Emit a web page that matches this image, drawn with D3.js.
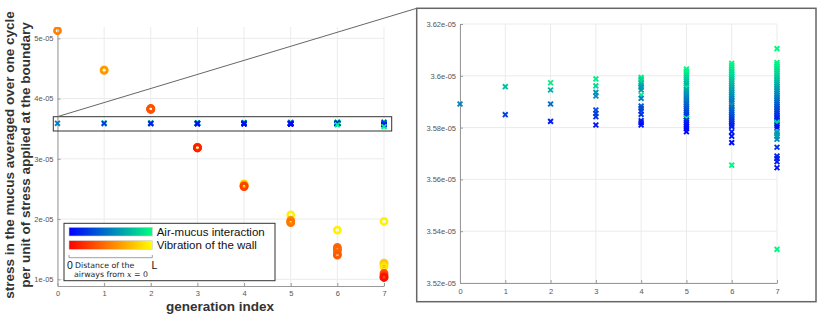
<!DOCTYPE html>
<meta charset="utf-8">
<script src="https://d3js.org/d3.v7.min.js"></script>
<style>
  body { margin: 0; background: #fff; }
  .tick text { font-family: "Liberation Sans", Arial, sans-serif; font-size: 7.5px; fill: #555; }
  .axis path, .axis line { stroke: #999; }
  .grid line { stroke: #ebebeb; stroke-width: 1; }
</style>
<body>
<svg width="817" height="321"></svg>
<script>
// values are in units of 1e-05, second entry = position along the airway (0..1, colour)
var gens = [0, 1, 2, 3, 4, 5, 6, 7];

var air0 = [[3.5891, 0.5]];
var air1 = [[3.5958, 0.75], [3.5850, 0.25]];
var air2 = [[3.5973, 0.95], [3.5945, 0.7], [3.5891, 0.42], [3.5824, 0.1]];
var air3 = [[3.5988, 0.95], [3.5961, 0.85], [3.5936, 0.6], [3.5922, 0.55], [3.5868, 0.3],
            [3.5855, 0.25], [3.5842, 0.2], [3.5810, 0.05]];
var air4 = [[3.5994, 0.95], [3.5988, 0.9], [3.5984, 0.85], [3.5971, 0.75], [3.5963, 0.68],
            [3.5956, 0.62], [3.5945, 0.58], [3.5926, 0.92], [3.5913, 0.5], [3.5883, 0.35],
            [3.5875, 0.3], [3.5864, 0.25], [3.5851, 0.2], [3.5827, 0.12], [3.5819, 0.08],
            [3.5810, 0.05]];
var air5 = [[3.6026, 0.98], [3.6018, 0.95], [3.6010, 0.92], [3.6002, 0.88], [3.5994, 0.85],
            [3.5986, 0.82], [3.5978, 0.78], [3.5970, 0.74], [3.5962, 0.7], [3.5955, 0.9],
            [3.5946, 0.66], [3.5938, 0.62], [3.5930, 0.58], [3.5922, 0.55], [3.5914, 0.5],
            [3.5906, 0.47], [3.5898, 0.44], [3.5890, 0.4], [3.5882, 0.37], [3.5874, 0.34],
            [3.5866, 0.3], [3.5858, 0.27], [3.5850, 0.24], [3.5842, 0.2], [3.5836, 0.95],
            [3.5828, 0.15], [3.5820, 0.12], [3.5812, 0.09], [3.5804, 0.06], [3.5796, 0.04],
            [3.5784, 0.02]];
var air6 = [[3.6048, 0.98], [3.6040, 0.96], [3.6033, 0.94], [3.6026, 0.92], [3.6019, 0.9],
            [3.6012, 0.88], [3.6005, 0.86], [3.5998, 0.84], [3.5991, 0.81], [3.5984, 0.79],
            [3.5977, 0.76], [3.5970, 0.74], [3.5963, 0.71], [3.5956, 0.69], [3.5949, 0.66],
            [3.5942, 0.64], [3.5935, 0.61], [3.5928, 0.59], [3.5921, 0.56], [3.5914, 0.54],
            [3.5907, 0.51], [3.5900, 0.49], [3.5893, 0.47], [3.5886, 0.62], [3.5879, 0.44],
            [3.5872, 0.41], [3.5865, 0.38], [3.5858, 0.35], [3.5851, 0.32], [3.5844, 0.29],
            [3.5837, 0.26], [3.5830, 0.23], [3.5823, 0.2], [3.5816, 0.17], [3.5809, 0.14],
            [3.5804, 0.12], [3.5784, 0.1], [3.5767, 0.08], [3.5742, 0.05], [3.5655, 0.97]];
var air7 = [[3.6105, 0.98], [3.6051, 0.97], [3.6044, 0.95], [3.6037, 0.93], [3.6030, 0.91],
            [3.6023, 0.89], [3.6016, 0.87], [3.6009, 0.85], [3.6002, 0.83], [3.5995, 0.8],
            [3.5988, 0.78], [3.5981, 0.75], [3.5974, 0.72], [3.5967, 0.7], [3.5960, 0.67],
            [3.5953, 0.64], [3.5946, 0.62], [3.5939, 0.59], [3.5932, 0.56], [3.5925, 0.53],
            [3.5918, 0.5], [3.5911, 0.47], [3.5904, 0.44], [3.5897, 0.41], [3.5890, 0.38],
            [3.5883, 0.35], [3.5876, 0.32], [3.5869, 0.29], [3.5862, 0.26], [3.5855, 0.23],
            [3.5848, 0.2], [3.5841, 0.17], [3.5834, 0.14], [3.5827, 0.11], [3.5820, 0.85],
            [3.5815, 0.8], [3.5808, 0.08], [3.5800, 0.06], [3.5784, 0.65], [3.5776, 0.6],
            [3.5767, 0.62], [3.5755, 0.55], [3.5724, 0.2], [3.5690, 0.15], [3.5681, 0.12],
            [3.5668, 0.1], [3.5645, 0.08], [3.5330, 0.97]];

var wall0 = [[5.126, 0.5]];
var wall1 = [[4.478, 0.75], [4.468, 0.6]];
var wall2 = [[3.835, 0.35], [3.830, 0.3], [3.825, 0.28], [3.820, 0.32]];
var wall3 = [[3.195, 0.85], [3.190, 0.3], [3.185, 0.2], [3.180, 0.12]];
var wall4 = [[2.585, 0.9], [2.575, 0.8], [2.560, 0.6], [2.545, 0.3], [2.540, 0.25]];
var wall5 = [[2.070, 0.95], [1.980, 0.6], [1.960, 0.5], [1.940, 0.45]];
var wall6 = [[1.818, 0.95], [1.530, 0.4], [1.500, 0.38], [1.480, 0.4], [1.420, 0.4], [1.400, 0.35]];
var wall7 = [[1.960, 0.95], [1.270, 0.75], [1.255, 0.8], [1.210, 0.9], [1.100, 0.3],
             [1.070, 0.25], [1.040, 0.1], [1.030, 0.05]];

var leftTicks = [1, 2, 3, 4, 5];
var rightTicks = [3.52, 3.54, 3.56, 3.58, 3.60, 3.62];

var airAll = [air0, air1, air2, air3, air4, air5, air6, air7];
var wallAll = [wall0, wall1, wall2, wall3, wall4, wall5, wall6, wall7];
var airPts = [], wallPts = [];
airAll.forEach(function(list, g) { list.forEach(function(p) { airPts.push({g: g, v: p[0], c: p[1]}); }); });
wallAll.forEach(function(list, g) { list.forEach(function(p) { wallPts.push({g: g, v: p[0], c: p[1]}); }); });

// matlab winter / autumn colormaps
function winter(c) { return d3.rgb(0, 255 * c, 255 * (1 - 0.5 * c)); }
function autumn(c) { return d3.rgb(255, 255 * c, 0); }

var svg = d3.select("svg");
var fmt = function(d) { return (+d.toFixed(2)) + "e-05"; };

function crossPath(x, y) {
  var s = 2.4;
  return "M" + (x - s) + "," + (y - s) + "L" + (x + s) + "," + (y + s) +
         "M" + (x - s) + "," + (y + s) + "L" + (x + s) + "," + (y - s);
}

function drawPanel(x, y, ticks, labelPad, clipId) {
  var g = svg.append("g");
  var x0 = x.range()[0], x1 = x.range()[1], y0 = y.range()[0], y1 = y.range()[1];

  g.append("g").attr("class", "grid").selectAll("line").data(gens).enter().append("line")
    .attr("x1", d => x(d)).attr("x2", d => x(d)).attr("y1", y0).attr("y2", y1);
  g.append("g").attr("class", "grid").selectAll("line").data(ticks).enter().append("line")
    .attr("x1", x0).attr("x2", x1).attr("y1", d => y(d)).attr("y2", d => y(d));

  g.append("g").attr("class", "axis").attr("transform", "translate(0," + y0 + ")")
    .call(d3.axisBottom(x).tickValues(gens).tickFormat(d3.format("d"))
      .tickSizeInner(-3).tickSizeOuter(0).tickPadding(labelPad));
  g.append("g").attr("class", "axis").attr("transform", "translate(" + x0 + ",0)")
    .call(d3.axisLeft(y).tickValues(ticks).tickFormat(fmt).tickSizeInner(-3).tickSizeOuter(0).tickPadding(4));

  svg.append("clipPath").attr("id", clipId).append("rect")
    .attr("x", x0 - 6).attr("y", y1).attr("width", x1 - x0 + 12).attr("height", y0 - y1);
  var marks = g.append("g").attr("clip-path", "url(#" + clipId + ")");

  marks.selectAll("circle").data(wallPts).enter().append("circle")
    .attr("cx", d => x(d.g)).attr("cy", d => y(d.v)).attr("r", 3.1)
    .attr("fill", "none").attr("stroke-width", 2.6)
    .attr("stroke", d => autumn(d.c));

  marks.selectAll("path.air").data(airPts).enter().append("path")
    .attr("class", "air")
    .attr("d", d => crossPath(x(d.g), y(d.v)))
    .attr("fill", "none").attr("stroke-width", 1.9)
    .attr("stroke", d => winter(d.c));
  return g;
}

// left panel: the full range
var xL = d3.scaleLinear().domain([0, 7]).range([57.5, 384]);
var yL = d3.scaleLinear().domain([0.889, 5.188]).range([286, 27]);
drawPanel(xL, yL, leftTicks, 5, "clipL");

// right panel: zoom on the air-mucus points
var xR = d3.scaleLinear().domain([0, 7]).range([460, 777]);
var yR = d3.scaleLinear().domain([3.52, 3.62]).range([283, 24]);
drawPanel(xR, yR, rightTicks, 5.5, "clipR");

// zoom box and connector
svg.append("rect").attr("x", 53.3).attr("y", 116.7).attr("width", 338.4).attr("height", 14.3)
  .attr("fill", "none").attr("stroke", "#333").attr("stroke-width", 1);
svg.append("line").attr("x1", 57.3).attr("y1", 116.7).attr("x2", 416.7).attr("y2", 8.3)
  .attr("stroke", "#666").attr("stroke-width", 1);
svg.append("rect").attr("x", 416.7).attr("y", 8.3).attr("width", 399.3).attr("height", 293.4)
  .attr("fill", "none").attr("stroke", "#666").attr("stroke-width", 1.5);

// axis titles
svg.append("text").attr("x", 220).attr("y", 310.5)
  .attr("text-anchor", "middle")
  .style("font-family", "'Liberation Sans', Arial, sans-serif").style("font-weight", "bold")
  .style("font-size", "13.5px").style("fill", "#333")
  .text("generation index");
var ylab = svg.append("g").attr("transform", "translate(0,155) rotate(-90)");
ylab.append("text").attr("x", 0).attr("y", 9).attr("dy", "0.36em")
  .attr("text-anchor", "middle")
  .style("font-family", "'Liberation Sans', Arial, sans-serif").style("font-weight", "bold")
  .style("font-size", "13.5px").style("fill", "#333")
  .text("stress in the mucus averaged over one cycle");
ylab.append("text").attr("x", 0).attr("y", 25).attr("dy", "0.36em")
  .attr("text-anchor", "middle")
  .style("font-family", "'Liberation Sans', Arial, sans-serif").style("font-weight", "bold")
  .style("font-size", "13.5px").style("fill", "#333")
  .text("per unit of stress applied at the boundary");

// legend
var leg = svg.append("g");
leg.append("rect").attr("x", 64).attr("y", 223.3).attr("width", 211).attr("height", 57.4)
  .attr("fill", "#fff").attr("stroke", "#333").attr("stroke-width", 1);

var defs = svg.append("defs");
function gradient(id, cmap) {
  var gr = defs.append("linearGradient").attr("id", id);
  [0, 0.25, 0.5, 0.75, 1].forEach(function(t) {
    gr.append("stop").attr("offset", t * 100 + "%").attr("stop-color", cmap(t));
  });
}
gradient("gWinter", winter);
gradient("gAutumn", autumn);

leg.append("rect").attr("x", 69).attr("y", 227.3).attr("width", 83.3).attr("height", 8.7)
  .attr("fill", "url(#gWinter)").attr("stroke", "#ccc").attr("stroke-width", 0.6);
leg.append("rect").attr("x", 69).attr("y", 240.7).attr("width", 83.3).attr("height", 8.7)
  .attr("fill", "url(#gAutumn)").attr("stroke", "#ccc").attr("stroke-width", 0.6);

var legFont = "'Liberation Sans', Arial, sans-serif";
leg.append("text").attr("x", 156.7).attr("y", 235.5).style("font-family", legFont)
  .style("font-size", "11.5px").style("fill", "#111").text("Air-mucus interaction");
leg.append("text").attr("x", 156.7).attr("y", 248.8).style("font-family", legFont)
  .style("font-size", "11.5px").style("fill", "#111").text("Vibration of the wall");

leg.append("path").attr("d", "M69,255 L69,257.7 L152.3,257.7 L152.3,255")
  .attr("fill", "none").attr("stroke", "#888").attr("stroke-width", 0.8);
leg.append("text").attr("x", 67).attr("y", 269.3).style("font-family", legFont)
  .style("font-size", "10.5px").style("fill", "#111").text("0");
leg.append("text").attr("x", 151.5).attr("y", 269.3).style("font-family", legFont)
  .style("font-size", "10.5px").style("fill", "#111").text("L");
leg.append("text").attr("x", 75).attr("y", 268.3).style("font-family", "'DejaVu Sans', sans-serif")
  .style("font-size", "7.8px").style("fill", "#222").text("Distance of the");
var t2 = leg.append("text").attr("x", 74).attr("y", 277.3).style("font-family", "'DejaVu Sans', sans-serif")
  .style("font-size", "7.8px").style("fill", "#222");
t2.append("tspan").text("airways from ");
t2.append("tspan").style("font-family", "'DejaVu Serif', serif").style("font-style", "italic").text("x");
t2.append("tspan").text(" = 0");
</script>
</body>
